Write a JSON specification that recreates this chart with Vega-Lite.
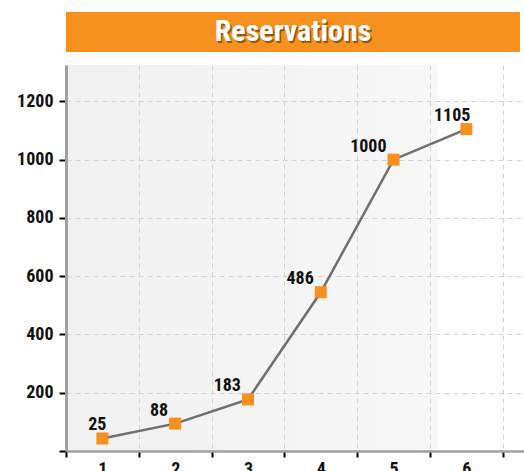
{
  "$schema": "https://vega.github.io/schema/vega-lite/v6.json",
  "padding": {"left": 16, "top": 12, "right": 0, "bottom": 0},
  "spacing": 13,
  "config": {
    "view": {"stroke": null},
    "font": "Roboto Condensed, Liberation Sans Narrow, Arial Narrow, DejaVu Sans Condensed, sans-serif"
  },
  "vconcat": [
    {
      "width": 454,
      "height": 40,
      "view": {"fill": "#F6911E", "stroke": null},
      "data": {"values": [{"title": "Reservations"}]},
      "layer": [
        {
          "mark": {"type": "text", "fontSize": 30, "fontWeight": "bold", "fill": "#4a2600", "opacity": 0.55, "dx": 1.5, "dy": 2, "baseline": "middle"},
          "encoding": {"text": {"field": "title"}}
        },
        {
          "mark": {"type": "text", "fontSize": 30, "fontWeight": "bold", "fill": "#ffffff", "baseline": "middle"},
          "encoding": {"text": {"field": "title"}}
        }
      ]
    },
    {
      "width": 458,
      "height": 386,
      "view": {
        "stroke": null,
        "fill": {"gradient": "linear", "x1": 0, "y1": 0, "x2": 1, "y2": 0, "stops": [
          {"offset": 0, "color": "#f0f0f0"},
          {"offset": 0.81, "color": "#f7f7f7"},
          {"offset": 0.812, "color": "#ffffff"},
          {"offset": 1, "color": "#ffffff"}
        ]}
      },
      "data": {"values": [
        {"x": 1, "y": 43, "label": "25"},
        {"x": 2, "y": 94, "label": "88"},
        {"x": 3, "y": 177, "label": "183"},
        {"x": 4, "y": 545, "label": "486"},
        {"x": 5, "y": 1000, "label": "1000"},
        {"x": 6, "y": 1105, "label": "1105"}
      ]},
      "encoding": {
        "x": {
          "field": "x", "type": "ordinal",
          "scale": {"type": "band", "paddingInner": 0, "paddingOuter": 0.146, "align": 0},
          "axis": {
            "title": null, "tickBand": "extent", "labelAngle": 0,
            "domainColor": "#a0a0a0", "domainWidth": 2.5,
            "tickColor": "#000000", "tickWidth": 2, "tickSize": 6,
            "labelFontSize": 18, "labelFontWeight": "bold", "labelColor": "#111111", "labelPadding": 3,
            "grid": true, "gridColor": "#d2d2d2", "gridDash": [5, 4], "gridWidth": 1
          }
        },
        "y": {
          "field": "y", "type": "quantitative",
          "scale": {"domain": [0, 1325], "nice": false},
          "axis": {
            "title": null, "values": [0, 200, 400, 600, 800, 1000, 1200], "format": "d",
            "labelExpr": "datum.value == 0 ? '' : datum.label",
            "domainColor": "#a0a0a0", "domainWidth": 3,
            "tickColor": "#000000", "tickWidth": 2, "tickSize": 7,
            "labelFontSize": 18, "labelFontWeight": "bold", "labelColor": "#111111", "labelPadding": 6,
            "grid": true, "gridColor": "#d2d2d2", "gridDash": [5, 4], "gridWidth": 1,
            "minExtent": 50, "maxExtent": 50
          }
        }
      },
      "layer": [
        {"mark": {"type": "line", "color": "#6e6e6e", "strokeWidth": 2.5}},
        {"mark": {"type": "point", "shape": "square", "size": 144, "filled": true, "color": "#F7901E", "opacity": 1}},
        {
          "transform": [{"filter": "datum.x != 1 && datum.x != 6"}],
          "mark": {"type": "text", "fontSize": 18, "fontWeight": "bold", "fill": "#111111", "align": "right", "baseline": "alphabetic", "dx": -7, "dy": -8},
          "encoding": {"text": {"field": "label"}}
        },
        {
          "transform": [{"filter": "datum.x == 1 || datum.x == 6"}],
          "mark": {"type": "text", "fontSize": 18, "fontWeight": "bold", "fill": "#111111", "align": "right", "baseline": "alphabetic", "dx": 4, "dy": -8},
          "encoding": {"text": {"field": "label"}}
        }
      ]
    }
  ]
}
